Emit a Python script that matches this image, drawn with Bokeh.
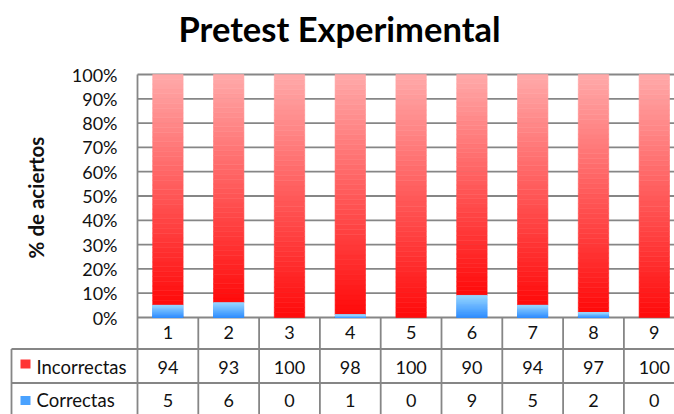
import math
from bokeh.plotting import figure
from bokeh.models import Range1d, ColumnDataSource
from bokeh.core.properties import value
from bokeh.embed import file_html
from bokeh.resources import INLINE

# ---- data ----
categories = ["1", "2", "3", "4", "5", "6", "7", "8", "9"]
incorrectas = [94, 93, 100, 98, 100, 90, 94, 97, 100]
correctas = [5, 6, 0, 1, 0, 9, 5, 2, 0]
series_names = ["Incorrectas", "Correctas"]
y_ticks = [0.0, 0.1, 0.2, 0.3, 0.4, 0.5, 0.6, 0.7, 0.8, 0.9, 1.0]
tick_labels = ["0%", "10%", "20%", "30%", "40%", "50%", "60%", "70%", "80%", "90%", "100%"]

FONT = "Lato"
GRID = "#868686"
TXT = "#111111"
W, H = 674, 414
LEFT, TOP = 137, 74      # left edge of the value columns, pixel row of 100%
CAT_PX = 60.8            # width of one category column (pixels)
ZERO_PX = 317            # pixel row of 0%
UNIT_PX = ZERO_PX - TOP  # pixels per 100%


def px2x(px):
    return 0.5 + (px - LEFT) / CAT_PX


def py2y(py):
    return (ZERO_PX - py) / UNIT_PX


def lerp(c0, c1, t):
    return "#%02x%02x%02x" % tuple(int(round(a + (b - a) * t)) for a, b in zip(c0, c1))


RED_BOT, RED_TOP = (255, 10, 10), (255, 170, 170)
BLUE_BOT, BLUE_TOP = (45, 140, 255), (150, 214, 255)

p = figure(width=W, height=H, x_range=Range1d(px2x(0), px2x(W)),
           y_range=Range1d(py2y(H), py2y(0)),
           output_backend="svg", toolbar_location=None,
           x_axis_location=None, y_axis_location=None, min_border=0)
p.outline_line_color = None
p.grid.visible = False

X_END = px2x(W)

# ---- horizontal grid and vertical axis line ----
p.segment(x0=[0.5] * len(y_ticks), y0=y_ticks, x1=[X_END] * len(y_ticks), y1=y_ticks,
          line_color=GRID, line_width=1.8)
p.segment(x0=[0.5], y0=[1.0], x1=[0.5], y1=[py2y(H + 5)], line_color=GRID, line_width=1.8)

# ---- 100% stacked bars, shaded with thin strips ----
N = 48
xs, bots, tops, cols = [], [], [], []
for i, (inc, cor) in enumerate(zip(incorrectas, correctas)):
    b = cor / (inc + cor)
    x = i + 1
    for k in range(N):
        t0, t1 = k / N, (k + 1) / N
        xs.append(x); bots.append(b + (1 - b) * t0); tops.append(b + (1 - b) * t1)
        cols.append(lerp(RED_BOT, RED_TOP, (k + 0.5) / N))
        if cor > 0:
            xs.append(x); bots.append(b * t0); tops.append(b * t1)
            cols.append(lerp(BLUE_BOT, BLUE_TOP, (k + 0.5) / N))

p.vbar(x="x", bottom="bottom", top="top", width=0.5, fill_color="color",
       line_color="color", line_width=0.6,
       source=ColumnDataSource(dict(x=xs, bottom=bots, top=tops, color=cols)))

# ---- y tick labels, axis caption, title ----
p.text(x=[px2x(117)] * len(y_ticks), y=y_ticks, text=tick_labels,
       text_font=value(FONT), text_font_size="18px", text_color=TXT,
       text_align="right", text_baseline="middle")
p.text(x=[px2x(35)], y=[py2y(197)], text=["% de aciertos"], angle=math.pi / 2,
       text_font=value(FONT), text_font_size="20.5px", text_font_style="bold",
       text_color=TXT, text_align="center", text_baseline="middle")
p.text(x=[px2x(339)], y=[py2y(28)], text=["Pretest Experimental"],
       text_font=value(FONT), text_font_size="34.5px", text_font_style="bold",
       text_color="#000000", text_align="center", text_baseline="middle")

# ---- data table below the bars ----
ROW_LINES = [348.5, 382.5]
seg = dict(x0=[], y0=[], x1=[], y1=[])
for k in range(1, len(categories) + 1):
    xe = k + 0.5
    seg["x0"].append(xe); seg["y0"].append(0.0); seg["x1"].append(xe); seg["y1"].append(py2y(H + 5))
for py in ROW_LINES:
    seg["x0"].append(px2x(11)); seg["y0"].append(py2y(py)); seg["x1"].append(X_END); seg["y1"].append(py2y(py))
seg["x0"].append(px2x(11)); seg["y0"].append(py2y(ROW_LINES[0])); seg["x1"].append(px2x(11)); seg["y1"].append(py2y(H + 5))
p.segment(x0="x0", y0="y0", x1="x1", y1="y1", line_color=GRID, line_width=1.8,
          source=ColumnDataSource(seg))

cat_x = [i + 1 for i in range(len(categories))]
txt = dict(text_font=value(FONT), text_font_size="18px", text_color=TXT,
           text_align="center", text_baseline="middle")
p.text(x=cat_x, y=[py2y(331.5)] * len(cat_x), text=categories, **txt)
p.text(x=cat_x, y=[py2y(366.5)] * len(cat_x), text=[str(v) for v in incorrectas], **txt)
p.text(x=cat_x, y=[py2y(399.5)] * len(cat_x), text=[str(v) for v in correctas], **txt)

# legend keys and series names
p.rect(x=[px2x(25)] * 2, y=[py2y(363.5), py2y(400)], width=10, height=9,
       width_units="screen", height_units="screen",
       fill_color=["#ff3535", "#4aa2ff"], line_color=None)
p.text(x=[px2x(36)] * 2, y=[py2y(366.5), py2y(399.5)], text=series_names,
       text_font=value(FONT), text_font_size="18.5px", text_color=TXT,
       text_align="left", text_baseline="middle")

open("out.html", "w").write(file_html(p, INLINE))
